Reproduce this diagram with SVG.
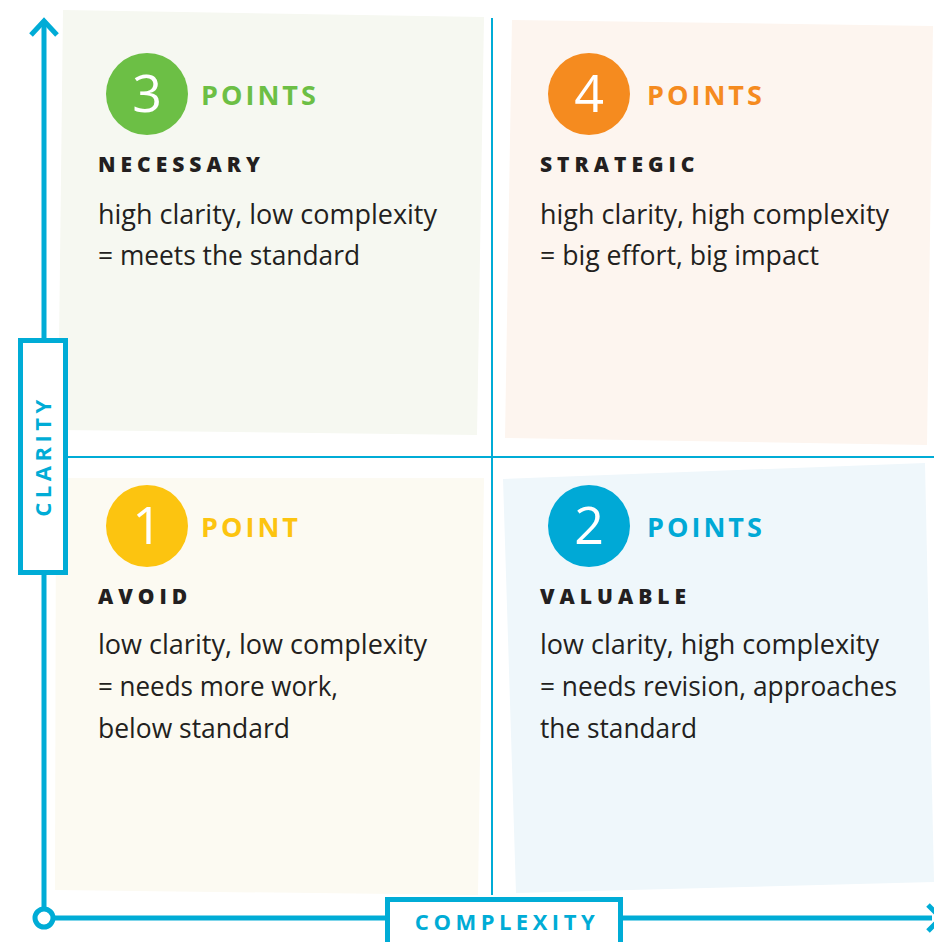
<svg xmlns="http://www.w3.org/2000/svg" width="934" height="942" viewBox="0 0 934 942">
<style>
.ax{stroke:#00acd6;fill:none}
.num{font-family:"Open Sans","Liberation Sans",sans-serif;font-size:52px;fill:#fff;text-anchor:middle}
.pts{font-family:"Open Sans","Liberation Sans",sans-serif;font-weight:bold;font-size:27px;letter-spacing:3px}
.hd{font-family:"Open Sans","Liberation Sans",sans-serif;font-weight:800;font-size:21px;letter-spacing:5px;fill:#231f20}
.bd{font-family:"Open Sans","Liberation Sans",sans-serif;font-size:27px;fill:#231f20}
.axl{font-family:"Open Sans","Liberation Sans",sans-serif;font-weight:bold;font-size:22px;letter-spacing:4.5px;fill:#00acd6;text-anchor:middle}
</style>
<rect width="934" height="942" fill="#fff"/>
<g id="quad-backgrounds">
<polygon points="63,10 484,17 477,435 58,430" fill="#f6f8f1"/>
<polygon points="512,20 933,26 927,445 505,438" fill="#fdf5ef"/>
<polygon points="56,478 484,478 478,895 55,890" fill="#fcfaf2"/>
<polygon points="503,479 925,463 934,882 516,893" fill="#eff7fb"/>
</g>
<g id="connectors">
<line class="ax" x1="492" y1="18" x2="492" y2="895" stroke-width="2"/>
<line class="ax" x1="66" y1="457" x2="934" y2="457" stroke-width="2"/>
<line class="ax" x1="44" y1="22" x2="44" y2="909" stroke-width="5"/>
<polyline class="ax" points="31,35 44,21 57,35" stroke-width="5"/>
<circle class="ax" cx="44" cy="918" r="9" stroke-width="5"/>
<line class="ax" x1="53" y1="918" x2="932" y2="918" stroke-width="5"/>
<polyline class="ax" points="928,905 941,918 928,931" stroke-width="5"/>
</g>
<g id="clarity-axis">
<rect x="20.5" y="340.5" width="45" height="232" fill="#fff" stroke="#00acd6" stroke-width="5"/>
<text class="axl" transform="translate(51,456) rotate(-90)">CLARITY</text>
</g>
<g id="complexity-axis">
<rect x="387.5" y="899.5" width="233" height="60" fill="#fff" stroke="#00acd6" stroke-width="5"/>
<text class="axl" x="507" y="930">COMPLEXITY</text>
</g>
<g id="q3">
<circle cx="147" cy="94" r="41" fill="#6cbf45"/>
<text class="num" x="147" y="112">3</text>
<text class="pts" x="201" y="105" fill="#6cbf45">POINTS</text>
<text class="hd" x="98" y="172">NECESSARY</text>
<text class="bd" x="98" y="224" textLength="339" lengthAdjust="spacingAndGlyphs">high clarity, low complexity</text>
<text class="bd" x="98" y="265" textLength="262" lengthAdjust="spacingAndGlyphs">= meets the standard</text>
</g>
<g id="q4">
<circle cx="589" cy="94" r="41" fill="#f58b1f"/>
<text class="num" x="589" y="112">4</text>
<text class="pts" x="647" y="105" fill="#f58b1f">POINTS</text>
<text class="hd" x="540" y="172">STRATEGIC</text>
<text class="bd" x="540" y="224" textLength="349" lengthAdjust="spacingAndGlyphs">high clarity, high complexity</text>
<text class="bd" x="540" y="265" textLength="279" lengthAdjust="spacingAndGlyphs">= big effort, big impact</text>
</g>
<g id="q1">
<circle cx="147" cy="526" r="41" fill="#fcc410"/>
<text class="num" x="147" y="544">1</text>
<text class="pts" x="201" y="537" fill="#fcc410">POINT</text>
<text class="hd" x="98" y="604">AVOID</text>
<text class="bd" x="98" y="654" textLength="329" lengthAdjust="spacingAndGlyphs">low clarity, low complexity</text>
<text class="bd" x="98" y="696" textLength="240" lengthAdjust="spacingAndGlyphs">= needs more work,</text>
<text class="bd" x="98" y="738" textLength="192" lengthAdjust="spacingAndGlyphs">below standard</text>
</g>
<g id="q2">
<circle cx="589" cy="526" r="41" fill="#00a9d6"/>
<text class="num" x="589" y="544">2</text>
<text class="pts" x="647" y="537" fill="#00a9d6">POINTS</text>
<text class="hd" x="540" y="604">VALUABLE</text>
<text class="bd" x="540" y="654" textLength="339" lengthAdjust="spacingAndGlyphs">low clarity, high complexity</text>
<text class="bd" x="540" y="696" textLength="357" lengthAdjust="spacingAndGlyphs">= needs revision, approaches</text>
<text class="bd" x="540" y="738" textLength="157" lengthAdjust="spacingAndGlyphs">the standard</text>
</g>
</svg>
